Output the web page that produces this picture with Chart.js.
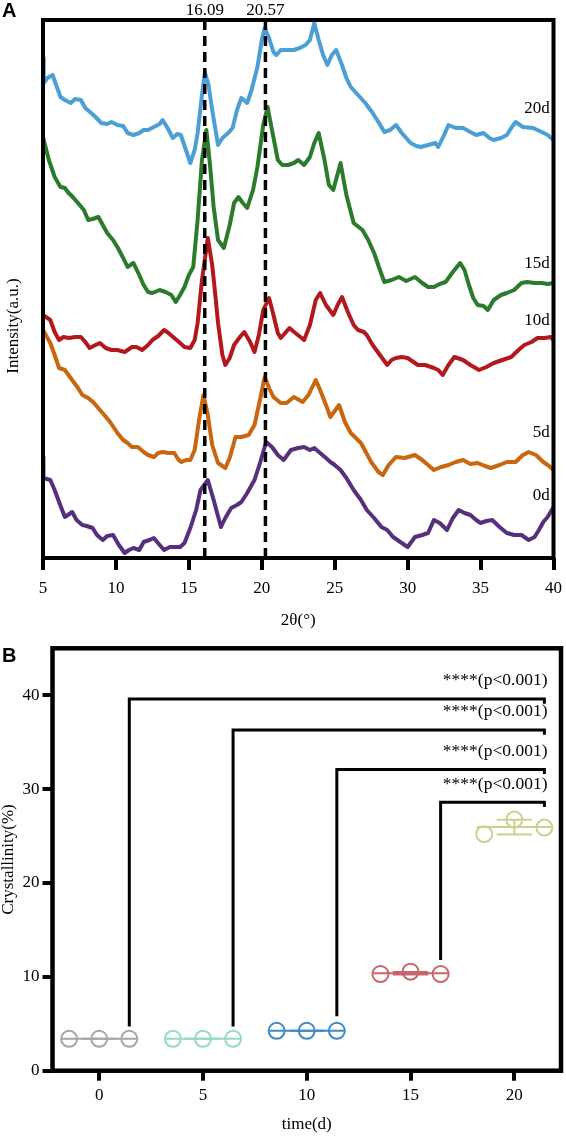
<!DOCTYPE html>
<html>
<head>
<meta charset="utf-8">
<script src="https://cdn.jsdelivr.net/npm/chart.js@4.4.1/dist/chart.umd.min.js"></script>
<style>
  html, body { margin: 0; padding: 0; background: #fff; }
  #wrap { position: relative; width: 566px; height: 1136px; }
  canvas { position: absolute; left: 0; }
  #xrd { top: 0; }
  #cry { top: 640px; }
</style>
</head>
<body>
<div id="wrap">
  <canvas id="xrd" width="566" height="640"></canvas>
  <canvas id="cry" width="566" height="496"></canvas>
</div>
<script>
// ---- A: XRD patterns, [2theta, intensity (a.u.)] ----
const xrd20d = [[5.0,500],[5.05,475],[5.3,480],[5.66,483],[5.9,473],[6.2,461],[6.5,458],[6.9,455],[7.2,459],[7.6,458],[7.9,450],[8.3,445],[8.6,441],[9.0,435],[9.4,434],[9.7,436],[10.1,433],[10.5,432],[10.8,425],[11.2,423],[11.6,425],[11.9,428],[12.2,428],[12.6,431],[13.0,434],[13.2,438],[13.5,431],[13.9,420],[14.2,424],[14.45,423],[14.8,408],[15.1,395],[15.4,408],[15.6,425],[15.9,463],[16.1,486],[16.35,473],[16.6,448],[17.0,413],[17.3,420],[17.7,425],[18.0,430],[18.3,448],[18.6,460],[19.0,455],[19.3,468],[19.7,491],[20.0,518],[20.2,530],[20.5,520],[20.8,506],[21.0,503],[21.3,508],[21.7,508],[22.2,508],[22.6,510],[23.0,513],[23.3,518],[23.6,535],[23.9,518],[24.2,503],[24.5,493],[24.8,503],[25.1,508],[25.5,493],[25.8,480],[26.1,471],[26.6,463],[27.1,455],[27.6,445],[28.0,436],[28.4,426],[28.8,428],[29.2,433],[29.6,425],[30.2,415],[30.6,412],[30.9,411],[31.4,413],[31.9,415],[32.1,411],[32.5,423],[32.8,433],[33.3,430],[33.8,430],[34.3,426],[34.7,423],[35.2,425],[35.6,420],[35.9,418],[36.4,420],[36.8,423],[37.1,430],[37.4,436],[37.9,431],[38.6,430],[39.2,426],[39.6,423],[40.0,418]];
const xrd15d = [[5.0,421],[5.4,398],[5.8,381],[6.2,371],[6.5,370],[6.7,366],[7.1,360],[7.4,355],[7.8,348],[8.1,338],[8.4,339],[8.8,341],[9.1,333],[9.4,325],[9.8,318],[10.1,311],[10.5,300],[10.8,291],[11.2,295],[11.6,283],[11.9,273],[12.2,266],[12.5,265],[13.0,268],[13.4,266],[13.8,263],[14.1,256],[14.4,263],[14.7,271],[15.0,283],[15.3,291],[15.6,338],[15.9,398],[16.2,428],[16.45,393],[16.7,351],[17.0,318],[17.4,310],[17.8,333],[18.1,355],[18.4,361],[18.7,355],[19.0,350],[19.4,368],[19.7,391],[20.1,433],[20.4,451],[20.7,428],[21.1,398],[21.4,393],[21.8,393],[22.2,395],[22.5,398],[22.9,393],[23.3,401],[23.6,415],[23.9,425],[24.3,398],[24.6,373],[24.9,368],[25.4,395],[25.8,363],[26.3,335],[26.9,328],[27.3,318],[27.7,305],[28.1,288],[28.4,276],[28.9,278],[29.4,281],[29.9,277],[30.5,281],[31.0,275],[31.4,271],[31.8,271],[32.2,274],[32.6,276],[33.1,286],[33.6,295],[33.9,288],[34.2,273],[34.5,260],[34.8,253],[35.2,252],[35.5,248],[35.9,258],[36.4,263],[36.8,265],[37.3,268],[37.8,275],[38.2,276],[38.7,275],[39.2,275],[39.6,274],[40.0,275]];
const xrd10d = [[5.0,243],[5.5,238],[5.8,226],[6.1,218],[6.4,221],[6.8,220],[7.2,221],[7.6,221],[7.9,216],[8.2,210],[8.6,213],[8.9,215],[9.3,210],[9.7,208],[10.1,208],[10.6,206],[11.1,211],[11.4,211],[11.8,208],[12.2,213],[12.5,218],[12.9,222],[13.3,228],[13.6,225],[14.0,220],[14.4,215],[14.7,211],[15.1,210],[15.4,218],[15.6,235],[15.9,278],[16.3,320],[16.6,293],[16.85,258],[17.0,235],[17.3,203],[17.5,193],[17.8,200],[18.1,213],[18.5,221],[18.8,226],[19.2,216],[19.5,206],[19.8,223],[20.1,248],[20.5,260],[20.8,243],[21.1,225],[21.3,220],[21.6,225],[21.9,230],[22.3,225],[22.9,218],[23.3,233],[23.7,258],[24.0,265],[24.4,253],[24.9,243],[25.2,253],[25.5,261],[25.9,246],[26.3,233],[26.6,228],[27.0,226],[27.2,223],[27.6,213],[28.1,203],[28.6,193],[28.9,198],[29.2,200],[29.6,201],[30.0,200],[30.4,196],[30.7,193],[31.2,193],[31.8,190],[32.1,188],[32.4,183],[32.8,193],[33.2,201],[33.8,198],[34.3,193],[34.9,188],[35.4,191],[35.9,195],[36.5,198],[37.1,201],[37.6,208],[38.0,213],[38.5,216],[38.9,220],[39.4,220],[39.8,221],[40.0,218]];
const xrd5d = [[5.0,228],[5.5,215],[5.8,203],[6.1,190],[6.5,188],[7.0,178],[7.4,170],[7.7,163],[8.1,160],[8.5,155],[8.9,148],[9.2,143],[9.6,136],[10.1,125],[10.5,118],[10.8,115],[11.1,111],[11.5,111],[11.9,106],[12.2,103],[12.6,101],[12.9,105],[13.2,106],[13.6,105],[14.0,105],[14.3,98],[14.5,96],[14.8,98],[15.1,98],[15.4,108],[15.7,138],[16.0,163],[16.3,143],[16.6,113],[17.0,95],[17.3,92],[17.5,90],[17.8,100],[18.2,121],[18.6,121],[19.1,123],[19.5,133],[19.8,153],[20.2,181],[20.5,170],[20.8,161],[21.3,155],[21.7,155],[22.2,161],[22.8,156],[23.2,163],[23.7,178],[24.0,168],[24.4,153],[24.7,141],[25.3,153],[25.7,136],[26.1,125],[26.8,115],[27.5,96],[28.0,86],[28.3,83],[28.7,93],[29.2,101],[29.8,100],[30.5,103],[31.0,98],[31.4,93],[31.8,88],[32.3,91],[32.8,93],[33.3,96],[33.8,98],[34.3,94],[34.8,95],[35.3,92],[35.7,90],[36.3,93],[36.8,96],[37.4,96],[37.9,103],[38.3,106],[38.8,103],[39.3,96],[39.7,92],[40.0,88]];
const xrd0d = [[5.0,101],[5.03,80],[5.5,78],[5.8,68],[6.1,56],[6.5,41],[7.0,46],[7.3,38],[7.7,33],[8.0,32],[8.4,30],[8.7,23],[9.1,18],[9.4,22],[9.8,23],[10.2,13],[10.6,5],[10.9,8],[11.2,10],[11.6,8],[11.9,16],[12.3,18],[12.6,20],[13.0,13],[13.3,8],[13.7,11],[14.0,11],[14.4,11],[14.7,15],[15.1,30],[15.5,48],[15.8,68],[16.3,78],[16.7,58],[17.2,31],[17.5,40],[17.9,50],[18.3,53],[18.6,56],[19.0,65],[19.5,78],[19.9,96],[20.3,116],[20.7,111],[21.1,103],[21.5,98],[22.0,108],[22.5,110],[22.9,111],[23.3,108],[23.6,110],[24.0,105],[24.4,100],[24.7,96],[25.0,93],[25.4,88],[25.8,80],[26.3,68],[26.8,58],[27.2,48],[27.7,40],[28.2,31],[28.6,28],[29.0,21],[29.5,16],[30.0,11],[30.5,21],[31.0,23],[31.4,25],[31.8,38],[32.2,35],[32.7,28],[33.1,40],[33.5,48],[33.9,45],[34.3,43],[34.7,38],[35.0,35],[35.4,37],[35.8,38],[36.3,31],[36.8,25],[37.3,23],[37.8,23],[38.3,18],[38.7,21],[39.0,28],[39.3,36],[39.6,41],[40.0,51]];

const xrdSeries = [xrd20d, xrd15d, xrd10d, xrd5d, xrd0d];
const xrdNames = ['20d', '15d', '10d', '5d', '0d'];
const xrdColors = ['#4c9fd6', '#2b7b2b', '#b2191f', '#c9660f', '#56307f'];
const xrdLabelY = [445, 290, 233, 121, 58];   // baseline of the 20d..0d labels, a.u.

const peakLines = [16.09, 20.25];
const peakTexts = ['16.09', '20.57'];

// ---- B: crystallinity (%) per sampling day, 3 replicates ----
const days = [0, 5, 10, 15, 20];
const crystallinity = [
  [3.4, 3.4, 3.4],
  [3.4, 3.4, 3.4],
  [4.25, 4.25, 4.25],
  [10.3, 10.55, 10.3],
  [25.2, 26.75, 25.9]
];
const dayColors = ['#a6a6a6', '#96d8c8', '#3f8ac5', '#c9656d', '#cbd08f'];

const compareFrom = [0, 5, 10, 15];
const compareTo = 20;
const bracketTop = [39.6, 36.3, 32.1, 28.6];
const bracketLeg = [4.7, 4.7, 5.8, 11.8];
const pTexts = ['****(p<0.001)', '****(p<0.001)', '****(p<0.001)', '****(p<0.001)'];

const serif = '"Liberation Serif", "Times New Roman", serif';
const sans = '"Liberation Sans", Arial, sans-serif';

function mean(a) { return a.reduce((s, v) => s + v, 0) / a.length; }
function sd(a) {
    const m = mean(a);
    return Math.sqrt(a.reduce((s, v) => s + (v - m) * (v - m), 0) / (a.length - 1));
}

// ---------- chart A ----------
const xrdDatasets = [];
peakLines.forEach(p => {
    xrdDatasets.push({
        data: [{ x: p, y: 0 }, { x: p, y: 538 }],
        showLine: true, borderColor: '#000', borderWidth: 3.5, borderDash: [10, 6],
        pointRadius: 0, pointHoverRadius: 0
    });
});
xrdSeries.forEach((s, i) => {
    xrdDatasets.push({
        data: s.map(d => ({ x: d[0], y: d[1] })),
        showLine: true, borderColor: xrdColors[i], borderWidth: 4,
        borderJoinStyle: 'round', borderCapStyle: 'round',
        pointRadius: 0, pointHoverRadius: 0, tension: 0
    });
});

const xrdDecor = {
    id: 'xrdDecor',
    afterDatasetsDraw(chart) {
        const { ctx, chartArea: a } = chart;
        ctx.save();
        ctx.strokeStyle = '#000';
        ctx.lineWidth = 4;
        ctx.strokeRect(a.left, a.top, a.right - a.left, a.bottom - a.top);
        ctx.restore();
    },
    afterDraw(chart) {
        const { ctx, scales: { x, y } } = chart;
        ctx.save();
        ctx.fillStyle = '#000';
        ctx.font = '17px ' + serif;
        ctx.textAlign = 'center';
        ctx.textBaseline = 'alphabetic';
        peakLines.forEach((p, i) => ctx.fillText(peakTexts[i], x.getPixelForValue(p), 15));
        ctx.textAlign = 'right';
        xrdNames.forEach((n, i) => ctx.fillText(n, x.getPixelForValue(39.75), y.getPixelForValue(xrdLabelY[i])));
        // y title
        ctx.save();
        ctx.translate(14, 326);
        ctx.rotate(-Math.PI / 2);
        ctx.textAlign = 'center';
        ctx.textBaseline = 'middle';
        ctx.fillText('Intensity(a.u.)', 0, 0);
        ctx.restore();
        ctx.font = 'bold 20px ' + sans;
        ctx.textAlign = 'left';
        ctx.fillText('A', 2, 17);
        ctx.restore();
    }
};

new Chart(document.getElementById('xrd'), {
    type: 'scatter',
    data: { datasets: xrdDatasets },
    options: {
        responsive: false, animation: false,
        layout: { autoPadding: false, padding: { top: 20, right: 12.5, left: 0, bottom: 0 } },
        plugins: { legend: { display: false }, tooltip: { enabled: false } },
        scales: {
            x: {
                type: 'linear', min: 5, max: 40,
                ticks: { stepSize: 5, includeBounds: false, color: '#000', font: { family: serif, size: 17 }, padding: 8 },
                grid: { display: true, drawOnChartArea: false, drawTicks: true, tickLength: 12, lineWidth: 4, color: '#000' },
                border: { display: false },
                title: { display: true, text: '2θ(°)', color: '#000', font: { family: serif, size: 17 }, padding: { top: 0, bottom: 9 } },
                afterFit(s) { s.height = 82; s.paddingLeft = 0; s.paddingRight = 0; }
            },
            y: {
                type: 'linear', min: 0, max: 538,
                ticks: { display: false },
                grid: { display: false },
                border: { display: false },
                afterFit(s) { s.width = 43; s.paddingTop = 0; s.paddingBottom = 0; }
            }
        }
    },
    plugins: [xrdDecor]
});

// ---------- chart B ----------
const spread = 1.45;
const jitter = [-spread, 0, spread];
const cryDatasets = [];

compareFrom.forEach((d, i) => {
    const x0 = d + spread, x1 = compareTo + spread;
    cryDatasets.push({
        data: [{ x: x0, y: bracketLeg[i] }, { x: x0, y: bracketTop[i] }, { x: x1, y: bracketTop[i] }, { x: x1, y: bracketTop[i] - 0.5 }],
        showLine: true, borderColor: '#000', borderWidth: 3, borderJoinStyle: 'miter', borderCapStyle: 'butt',
        pointRadius: 0, pointHoverRadius: 0
    });
});

days.forEach((d, g) => {
    const vals = crystallinity[g];
    const m = mean(vals), s = sd(vals);
    const col = dayColors[g];
    cryDatasets.push({
        data: vals.map((v, i) => ({ x: d + jitter[i], y: v })),
        showLine: false, pointRadius: 8, pointHoverRadius: 8, pointBorderWidth: 2,
        pointBackgroundColor: 'rgba(0,0,0,0)', pointBorderColor: col, borderColor: col
    });
    cryDatasets.push({
        data: [
            { x: d - 0.85, y: m + s }, { x: d + 0.85, y: m + s }, { x: d, y: null },
            { x: d, y: m + s }, { x: d, y: m - s }, { x: d, y: null },
            { x: d - 0.85, y: m - s }, { x: d + 0.85, y: m - s }
        ],
        showLine: true, spanGaps: false, borderColor: col, borderWidth: 2, pointRadius: 0, pointHoverRadius: 0
    });
    cryDatasets.push({
        data: [{ x: d - 1.8, y: m }, { x: d + 1.8, y: m }],
        showLine: true, borderColor: col, borderWidth: 2, pointRadius: 0, pointHoverRadius: 0
    });
});

const cryDecor = {
    id: 'cryDecor',
    afterDatasetsDraw(chart) {
        const { ctx, chartArea: a } = chart;
        ctx.save();
        ctx.strokeStyle = '#000';
        ctx.lineWidth = 4.5;
        ctx.strokeRect(a.left, a.top, a.right - a.left, a.bottom - a.top);
        ctx.restore();
    },
    afterDraw(chart) {
        const { ctx, chartArea: a, scales: { x, y } } = chart;
        ctx.save();
        ctx.fillStyle = '#000';
        ctx.font = '17.5px ' + serif;
        ctx.textAlign = 'right';
        ctx.textBaseline = 'alphabetic';
        pTexts.forEach((t, i) => ctx.fillText(t, x.getPixelForValue(compareTo + 1.6), y.getPixelForValue(bracketTop[i] + 1.45)));
        ctx.font = '17px ' + serif;
        ctx.save();
        ctx.translate(9, (a.top + a.bottom) / 2);
        ctx.rotate(-Math.PI / 2);
        ctx.textAlign = 'center';
        ctx.textBaseline = 'middle';
        ctx.fillText('Crystallinity(%)', 0, 0);
        ctx.restore();
        ctx.font = 'bold 20px ' + sans;
        ctx.textAlign = 'left';
        ctx.fillText('B', 2, 22);
        ctx.restore();
    }
};

new Chart(document.getElementById('cry'), {
    type: 'scatter',
    data: { datasets: cryDatasets },
    options: {
        responsive: false, animation: false,
        layout: { autoPadding: false, padding: { top: 8.3, right: 5, left: 0, bottom: 0 } },
        plugins: { legend: { display: false }, tooltip: { enabled: false } },
        scales: {
            x: {
                type: 'linear', min: -2.25, max: 22.25,
                ticks: { stepSize: 5, includeBounds: false, color: '#000', font: { family: serif, size: 17 }, padding: 5 },
                grid: { display: true, drawOnChartArea: false, drawTicks: true, tickLength: 10, lineWidth: 4, color: '#000' },
                border: { display: false },
                title: { display: true, text: 'time(d)', color: '#000', font: { family: serif, size: 17 }, padding: { top: 0, bottom: 1 } },
                afterFit(s) { s.height = 65.3; s.paddingLeft = 0; s.paddingRight = 0; }
            },
            y: {
                type: 'linear', min: 0, max: 45,
                ticks: { stepSize: 10, includeBounds: false, color: '#000', font: { family: serif, size: 17 }, padding: 3 },
                grid: { display: true, drawOnChartArea: false, drawTicks: true, tickLength: 10, lineWidth: 4, color: '#000' },
                border: { display: false },
                afterFit(s) { s.width = 52.5; s.paddingTop = 0; s.paddingBottom = 0; }
            }
        }
    },
    plugins: [cryDecor]
});
</script>
</body>
</html>
